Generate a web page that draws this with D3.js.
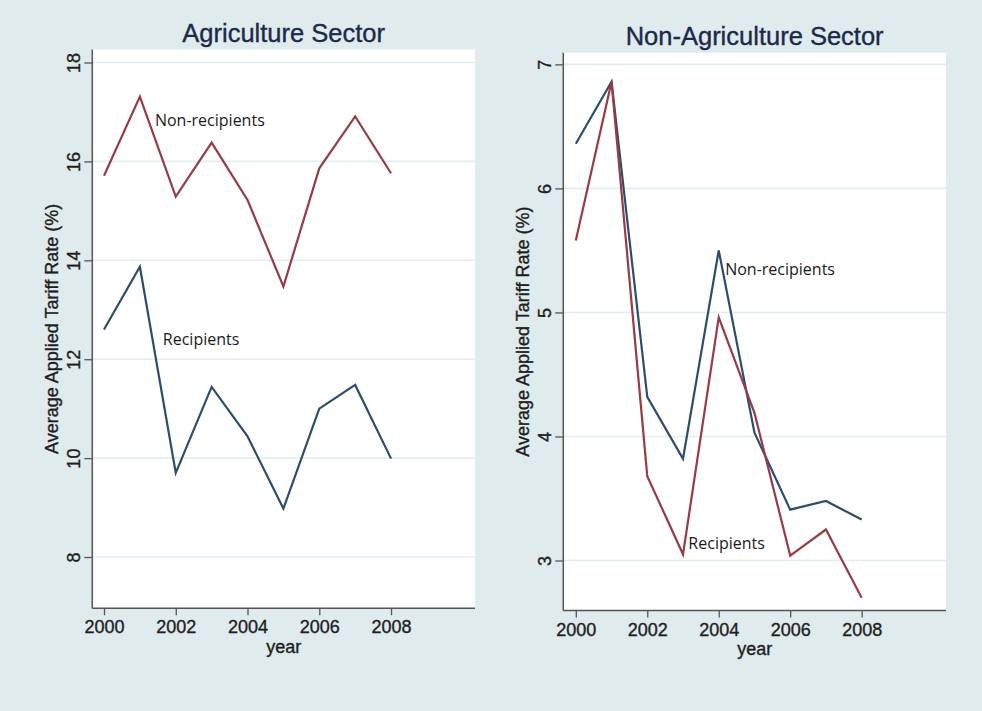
<!DOCTYPE html>
<html>
<head>
<meta charset="utf-8">
<script src="https://cdn.jsdelivr.net/npm/d3@7"></script>
<style>
  html, body { margin: 0; padding: 0; background: #dfebec; }
  svg { display: block; }
  .heavy { stroke-width: 0.35px; paint-order: stroke; }
</style>
</head>
<body>
<svg id="chart" width="982" height="711"></svg>
<script>
// Average applied tariff rates by year, aid recipients vs. non-recipients
const years = [2000, 2001, 2002, 2003, 2004, 2005, 2006, 2007, 2008];

const agriNonRecipients = [15.71, 17.31, 15.29, 16.38, 15.22, 13.47, 15.86, 16.91, 15.76];
const agriRecipients    = [12.60, 13.87, 9.70, 11.44, 10.44, 8.98, 11.00, 11.48, 9.99];

const nonAgriNonRecipients = [6.36, 6.86, 4.32, 3.82, 5.50, 4.03, 3.41, 3.48, 3.33];
const nonAgriRecipients    = [5.58, 6.86, 3.68, 3.05, 4.96, 4.19, 3.04, 3.25, 2.70];

const xTickValues = [2000, 2002, 2004, 2006, 2008];
const agriYTicks = [8, 10, 12, 14, 16, 18];
const nonAgriYTicks = [3, 4, 5, 6, 7];

const panelTitles = ["Agriculture Sector", "Non-Agriculture Sector"];
const seriesNames = ["Non-recipients", "Recipients"];
const xAxisTitle = "year";
const yAxisTitle = "Average Applied Tariff Rate (%)";

// Where each series label sits, in (year, rate) units
const agriLabelAnchors = [[2001.42, 16.72], [2001.64, 12.29]];
const nonAgriLabelAnchors = [[2004.18, 5.30], [2003.15, 3.09]];

const colors = { nonRecipients: "#2d4d70", recipients: "#983b46" };

const panels = [
  {
    title: panelTitles[0],
    series: [
      { name: seriesNames[0], values: agriNonRecipients, color: colors.recipients },
      { name: seriesNames[1], values: agriRecipients, color: colors.nonRecipients }
    ],
    anchors: agriLabelAnchors,
    yTicks: agriYTicks,
    yDomain: [6.963, 18.263],
    xDomain: [1999.674, 2010.34],
    box: { left: 92.3, right: 475, top: 49.5, bottom: 608.3 },
    titleY: 42, tickLabelY: 633.3, xTitleY: 652.5, yTitleX: 57.5
  },
  {
    title: panelTitles[1],
    series: [
      { name: seriesNames[0], values: nonAgriNonRecipients, color: colors.nonRecipients },
      { name: seriesNames[1], values: nonAgriRecipients, color: colors.recipients }
    ],
    anchors: nonAgriLabelAnchors,
    yTicks: nonAgriYTicks,
    yDomain: [2.597, 7.094],
    xDomain: [1999.65, 2010.36],
    box: { left: 563.3, right: 946, top: 52.7, bottom: 610.5 },
    titleY: 44.5, tickLabelY: 636, xTitleY: 654.5, yTitleX: 529
  }
];

const svg = d3.select("#chart");
const axisFont = "'Liberation Sans', Arial, sans-serif";
const axisFontSize = "18px";
const textColor = "#1e1e1e";

panels.forEach(p => {
  const b = p.box;
  const x = d3.scaleLinear().domain(p.xDomain).range([b.left, b.right]);
  const y = d3.scaleLinear().domain(p.yDomain).range([b.bottom, b.top]);
  const g = svg.append("g");

  // plot region
  g.append("rect")
    .attr("x", b.left).attr("y", b.top)
    .attr("width", b.right - b.left).attr("height", b.bottom - b.top)
    .attr("fill", "#ffffff");

  // horizontal grid
  g.selectAll("line.grid").data(p.yTicks).join("line")
    .attr("class", "grid")
    .attr("x1", b.left).attr("x2", b.right)
    .attr("y1", d => y(d)).attr("y2", d => y(d))
    .attr("stroke", "#e2eef0").attr("stroke-width", 1.6);

  // y axis
  const yAxis = d3.axisLeft(y).tickValues(p.yTicks).tickSize(8).tickPadding(4)
    .tickFormat(d3.format("d"));
  const ya = g.append("g").attr("transform", `translate(${b.left},0)`).call(yAxis);
  ya.select(".domain").attr("d", `M0,${b.top}V${b.bottom}`)
    .attr("stroke", "#555").attr("stroke-width", 1.5);
  ya.selectAll(".tick line").attr("stroke", "#555").attr("stroke-width", 1.3);
  ya.selectAll(".tick text")
    .attr("class", "heavy")
    .attr("transform", "rotate(-90)")
    .attr("x", 0).attr("y", -12).attr("dy", 0)
    .attr("text-anchor", "middle")
    .style("font-family", axisFont).style("font-size", axisFontSize)
    .attr("fill", textColor).attr("stroke", textColor);

  // x axis
  const xAxis = d3.axisBottom(x).tickValues(xTickValues).tickSize(7).tickPadding(5)
    .tickFormat(d3.format("d"));
  const xa = g.append("g").attr("transform", `translate(0,${b.bottom})`).call(xAxis);
  xa.select(".domain").attr("d", `M${b.left},0H${b.right}`)
    .attr("stroke", "#555").attr("stroke-width", 1.5);
  xa.selectAll(".tick line").attr("stroke", "#555").attr("stroke-width", 1.3);
  xa.selectAll(".tick text")
    .attr("class", "heavy")
    .attr("y", p.tickLabelY - b.bottom).attr("dy", 0)
    .style("font-family", axisFont).style("font-size", axisFontSize)
    .attr("fill", textColor).attr("stroke", textColor);

  // data lines
  const line = d3.line().x((d, i) => x(years[i])).y(d => y(d));
  p.series.forEach(s => {
    g.append("path").datum(s.values)
      .attr("d", line)
      .attr("fill", "none")
      .attr("stroke", s.color)
      .attr("stroke-width", 2.2)
      .attr("stroke-linejoin", "miter");
  });

  // series labels
  p.series.forEach((s, i) => {
    g.append("text")
      .attr("x", x(p.anchors[i][0])).attr("y", y(p.anchors[i][1]))
      .style("font-family", "'Open Sans', sans-serif").style("font-size", "16px")
      .attr("fill", "#1b1b1b")
      .text(s.name);
  });

  // panel title
  g.append("text")
    .attr("class", "heavy")
    .attr("x", (b.left + b.right) / 2).attr("y", p.titleY)
    .attr("text-anchor", "middle")
    .style("font-family", axisFont).style("font-size", "25.5px")
    .attr("fill", "#1b2a4a").attr("stroke", "#1b2a4a")
    .text(p.title);

  // axis titles
  g.append("text")
    .attr("class", "heavy")
    .attr("x", (b.left + b.right) / 2).attr("y", p.xTitleY)
    .attr("text-anchor", "middle")
    .style("font-family", axisFont).style("font-size", axisFontSize)
    .attr("fill", textColor).attr("stroke", textColor)
    .text(xAxisTitle);

  g.append("text")
    .attr("class", "heavy")
    .attr("transform", `translate(${p.yTitleX},${(b.top + b.bottom) / 2}) rotate(-90)`)
    .attr("text-anchor", "middle")
    .style("font-family", axisFont).style("font-size", axisFontSize)
    .attr("fill", textColor).attr("stroke", textColor)
    .text(yAxisTitle);
});
</script>
</body>
</html>
